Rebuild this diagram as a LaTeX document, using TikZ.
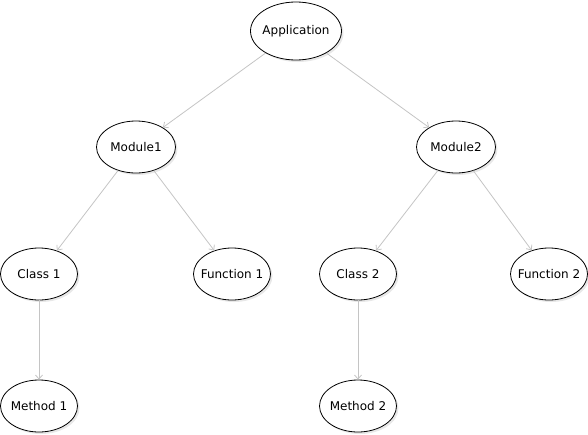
\documentclass[tikz,border=0pt]{standalone}
\usepackage{fontspec}
\setmainfont{DejaVu Sans}
\usetikzlibrary{shapes.geometric,arrows.meta,shadows}
\newcommand\ctext[1]{\makebox[0pt][c]{#1}}
\begin{document}
\begin{tikzpicture}[x=1pt,y=-1pt,
  item/.style={ellipse,draw=black,line width=0.8pt,fill=white,inner sep=0pt,
    minimum width=77pt,minimum height=52pt,font=\fontsize{12}{14}\selectfont,
    drop shadow={opacity=0.18,shadow xshift=2pt,shadow yshift=-2pt}},
  link/.style={draw={rgb,255:red,196;green,196;blue,196},line width=0.8pt,
    -{Straight Barb[length=4pt,width=7pt]}}]
\useasboundingbox (0,0) rectangle (588,434);
\node[item,minimum width=91pt,minimum height=58pt] (app) at (296,31) {\ctext{Application}};
\node[item,minimum width=79pt] (m1) at (136,147) {\ctext{Module1}};
\node[item,minimum width=79pt] (m2) at (456,147) {\ctext{Module2}};
\node[item] (c1) at (39,274) {\ctext{Class 1}};
\node[item] (f1) at (232,274) {\ctext{Function 1}};
\node[item] (c2) at (358,274) {\ctext{Class 2}};
\node[item] (f2) at (549,274) {\ctext{Function 2}};
\node[item] (me1) at (39,406) {\ctext{Method 1}};
\node[item] (me2) at (358,406) {\ctext{Method 2}};
\draw[link] (app) -- (m1);
\draw[link] (app) -- (m2);
\draw[link] (m1) -- (c1);
\draw[link] (m1) -- (f1);
\draw[link] (m2) -- (c2);
\draw[link] (m2) -- (f2);
\draw[link] (c1) -- (me1);
\draw[link] (c2) -- (me2);
\end{tikzpicture}
\end{document}
